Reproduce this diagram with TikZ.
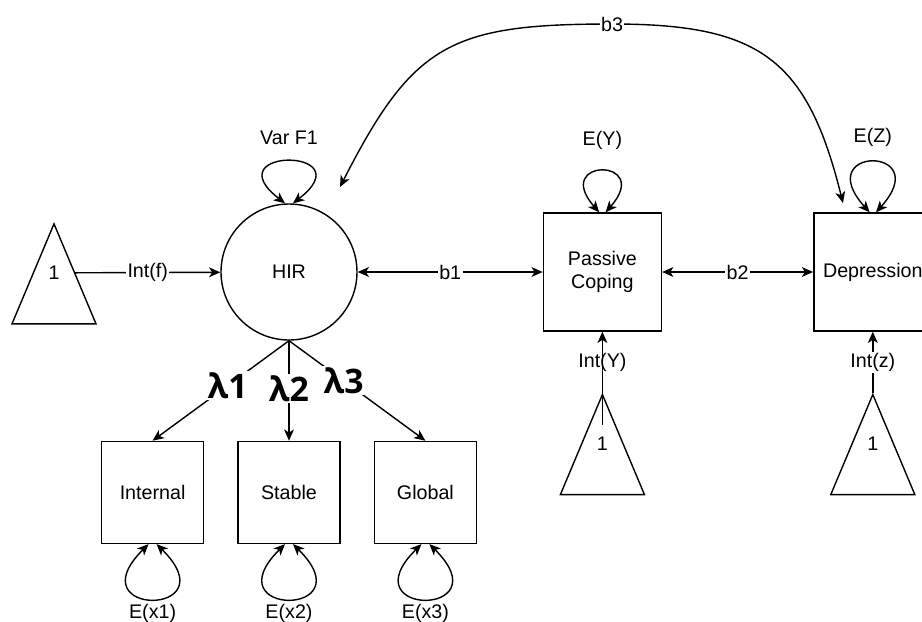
\documentclass[tikz,border=0pt]{standalone}
\usepackage{fontspec}
\setmainfont{Liberation Sans}
\newfontfamily\lamfont{Open Sans}
\usetikzlibrary{arrows.meta,calc,positioning,shapes}

\begin{document}
\begin{tikzpicture}[>={Stealth[length=8pt,width=7pt,inset=2.2pt]},line width=1pt,font=\fontsize{14}{17}\selectfont]
\tikzstyle{block} = [draw, rectangle, minimum height=2.95cm, minimum width=2.95cm]
\tikzstyle{ind} = [draw, rectangle, minimum height=2.55cm, minimum width=2.55cm]
\tikzstyle{const} = [draw, isosceles triangle, isosceles triangle stretches, shape border rotate=90, minimum width=2.1cm, minimum height=2.5cm, inner sep=0pt]
\tikzstyle{lam} = [fill=white, inner sep=1pt, font=\lamfont\bfseries\fontsize{24}{24}\selectfont]
\tikzstyle{lab} = [fill=white, inner sep=1pt]

\useasboundingbox (0,0) rectangle (23.05,-15.55);

\node [draw, circle, minimum size=3.4cm, inner sep=0pt] (hir) at (7.225,-6.8) {HIR};
\node [const, anchor=apex] (trif) at (1.35,-5.55) {};
\node [block, right = 4.625cm of hir, align=center, font=\fontsize{14}{16.3}\selectfont] (pc) {Passive\\Coping};
\node [block, right = 3.775cm of pc] (dep) {Depression};
\node [const, below = 1.525cm of pc] (triy) {};
\node [const, below = 1.525cm of dep] (triz) {};

\node (onef) at ($(trif.apex)+(0,-1.27)$) {1};
\node (oney) at ($(triy.apex)+(0,-1.27)$) {1};
\node (onez) at ($(triz.apex)+(0,-1.27)$) {1};

\node [ind, below = 2.5cm of hir] (sta) {Stable};
\node [ind, left = 0.825cm of sta] (int) {Internal};
\node [ind, right = 0.825cm of sta] (glo) {Global};

\node [above = 1.33cm of hir] (varf) {Var F1};
\node [above = 1.43cm of pc] (ey) {E(Y)};
\node [above = 1.5cm of dep] (ez) {E(Z)};
\node [below = 1.36cm of int] (ex1) {E(x1)};
\node [below = 1.36cm of sta] (ex2) {E(x2)};
\node [below = 1.36cm of glo] (ex3) {E(x3)};

\coordinate (b3l) at (8.5,-4.675);
\coordinate (b3m) at (15.3,-0.6);
\coordinate (b3r) at (21.075,-5.075);

\draw [->] ([xshift=0.53cm]onef.center) -- node[lab]{Int(f)} (hir);
\draw [<->] (hir) -- node[lab]{b1} (pc);
\draw [<->] (pc) -- node[lab]{b2} (dep);
\draw [->] ([yshift=0.475cm]oney.center) -- node[pos=0.67]{Int(Y)} (pc);
\draw [->] (triz.apex) -- node[lab]{Int(z)} (dep);

\draw [->] (hir.south) -- node[lam, pos=0.45]{λ1} (int.north);
\draw [->] (hir.south) -- node[lam, pos=0.48]{λ2} (sta.north);
\draw [->] (hir.south) -- node[lam, pos=0.4]{λ3} (glo.north);

% variances
\draw [<->] ([xshift=-0.1cm]hir.north) .. controls +(-1.8,1.4) and +(1.8,1.4) .. ([xshift=0.1cm]hir.north);
\draw [<->] ([xshift=-0.08cm]pc.north) .. controls +(-1.2,1.37) and +(1.2,1.37) .. ([xshift=0.08cm]pc.north);
\draw [<->] ([xshift=-0.08cm]dep.north) .. controls +(-1.5,1.67) and +(1.5,1.67) .. ([xshift=0.08cm]dep.north);
\draw [<->] ([xshift=-0.1cm]int.south) .. controls +(-1.85,-1.83) and +(1.85,-1.83) .. ([xshift=0.1cm]int.south);
\draw [<->] ([xshift=-0.1cm]sta.south) .. controls +(-1.85,-1.83) and +(1.85,-1.83) .. ([xshift=0.1cm]sta.south);
\draw [<->] ([xshift=-0.1cm]glo.south) .. controls +(-1.85,-1.83) and +(1.85,-1.83) .. ([xshift=0.1cm]glo.south);

\draw [<->] (b3l) to[out=63,in=180,looseness=1.3] node[lab, at end]{b3} (b3m) to[out=0,in=104,looseness=1.3] (b3r);
\end{tikzpicture}
\end{document}
